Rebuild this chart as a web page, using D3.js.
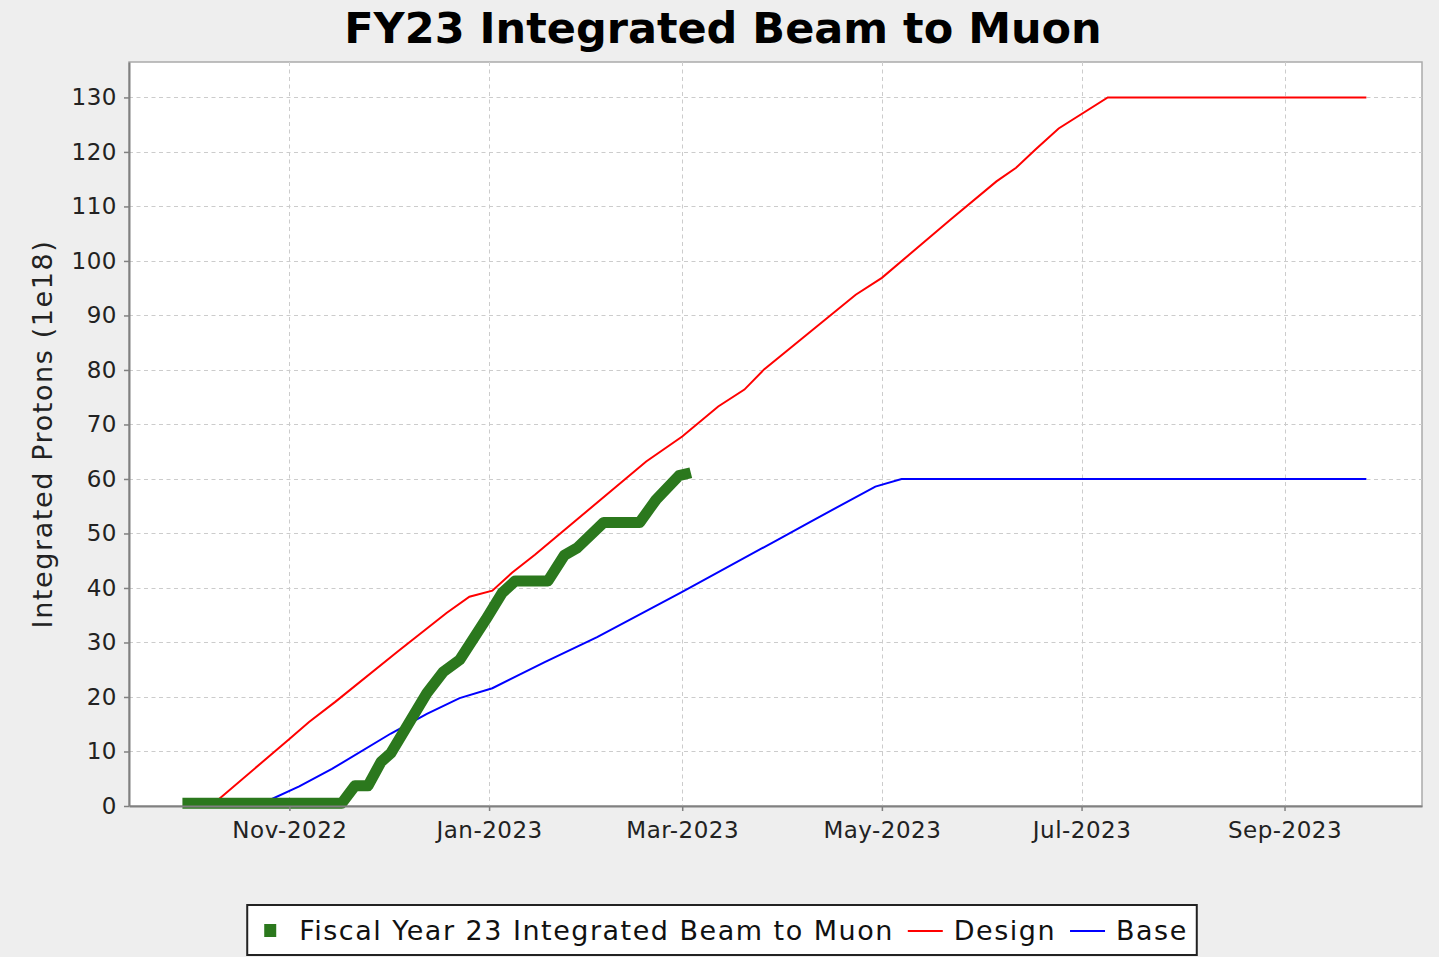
<!DOCTYPE html>
<html>
<head>
<meta charset="utf-8">
<script src="https://cdn.jsdelivr.net/npm/d3@7"></script>
<style>
  html, body { margin: 0; padding: 0; background: #eeeeee; }
  svg { display: block; font-family: "DejaVu Sans", sans-serif; }
</style>
</head>
<body>
<svg id="chart" width="1439" height="957"></svg>
<script>
// ---------- data ----------
const title = "FY23 Integrated Beam to Muon";
const yTitle = "Integrated Protons (1e18)";
const seriesNames = ["Fiscal Year 23 Integrated Beam to Muon", "Design", "Base"];
const seriesColors = ["#2b781d", "#ff0000", "#0000ff"];

const beamDates = ["2022-10-01","2022-11-17","2022-11-21","2022-11-25","2022-11-29","2022-12-02","2022-12-13","2022-12-18","2022-12-23","2022-12-31","2023-01-05","2023-01-09","2023-01-19","2023-01-24","2023-01-28","2023-02-05","2023-02-16","2023-02-21","2023-02-28","2023-03-02"];
const beamValues = [0.5,0.5,3.7,3.7,8.1,9.7,20.7,24.6,26.8,34.2,39.1,41.3,41.3,46.0,47.4,52.0,52.0,56.2,60.6,60.9];

const designDates = ["2022-10-08","2022-11-01","2022-11-07","2022-11-15","2022-12-04","2022-12-19","2022-12-26","2023-01-02","2023-01-08","2023-01-15","2023-02-18","2023-03-01","2023-03-12","2023-03-20","2023-03-26","2023-04-23","2023-05-01","2023-05-22","2023-06-05","2023-06-11","2023-06-17","2023-06-24","2023-07-09","2023-09-26"];
const designValues = [0,12.3,15.4,19.1,28.3,35.4,38.4,39.5,42.8,46.1,63.2,67.8,73.3,76.4,80.1,93.8,96.9,107.6,114.6,117.1,120.5,124.3,130,130];

const baseDates = ["2022-10-22","2022-11-04","2022-11-14","2022-12-02","2022-12-13","2022-12-23","2023-01-02","2023-01-10","2023-01-18","2023-02-03","2023-03-01","2023-03-30","2023-04-09","2023-04-29","2023-05-07","2023-09-26"];
const baseValues = [0,3.6,6.8,13.3,16.9,19.8,21.6,24.0,26.4,31.0,39.3,48.8,52.1,58.6,60,60];

const xTickDates = ["2022-11-01","2023-01-01","2023-03-01","2023-05-01","2023-07-01","2023-09-01"];
const yTickValues = [0,10,20,30,40,50,60,70,80,90,100,110,120,130];
const xDomain = ["2022-09-13","2023-10-13"];
const yDomain = [0, 136.5];

// ---------- setup ----------
const parse = d3.timeParse("%Y-%m-%d");
const svg = d3.select("#chart");
const plot = {left: 129, top: 62, right: 1422, bottom: 806};

const x = d3.scaleTime().domain(xDomain.map(parse)).range([plot.left, plot.right]);
const y = d3.scaleLinear().domain(yDomain).range([plot.bottom, plot.top]);

const zip = (ds, vs) => ds.map((d, i) => ({date: parse(d), value: vs[i]}));
const series = [zip(beamDates, beamValues), zip(designDates, designValues), zip(baseDates, baseValues)];

// background
svg.append("rect").attr("width", 1439).attr("height", 957).attr("fill", "#eeeeee");
svg.append("rect")
  .attr("x", plot.left).attr("y", plot.top)
  .attr("width", plot.right - plot.left).attr("height", plot.bottom - plot.top)
  .attr("fill", "#ffffff").attr("stroke", "#aaaaaa").attr("stroke-width", 1.5);

// grid
const grid = svg.append("g").attr("stroke", "#cccccc").attr("stroke-width", 1).attr("stroke-dasharray", "4,3.5");
grid.selectAll("line.h").data(yTickValues).join("line")
  .attr("x1", plot.left).attr("x2", plot.right)
  .attr("y1", d => Math.round(y(d)) + 0.5).attr("y2", d => Math.round(y(d)) + 0.5);
grid.selectAll("line.v").data(xTickDates.map(parse)).join("line")
  .attr("y1", plot.top).attr("y2", plot.bottom)
  .attr("x1", d => Math.round(x(d)) + 0.5).attr("x2", d => Math.round(x(d)) + 0.5);

// lines
const line = d3.line().x(d => x(d.date)).y(d => y(d.value));
const g = svg.append("g");
g.append("path").datum(series[1]).attr("d", line)
  .attr("fill", "none").attr("stroke", seriesColors[1]).attr("stroke-width", 2);
g.append("path").datum(series[2]).attr("d", line)
  .attr("fill", "none").attr("stroke", seriesColors[2]).attr("stroke-width", 2);
g.append("path").datum(series[0]).attr("d", line)
  .attr("fill", "none").attr("stroke", seriesColors[0]).attr("stroke-width", 11)
  .attr("stroke-linejoin", "round").attr("stroke-linecap", "square");

// axes
const yAxis = d3.axisLeft(y).tickValues(yTickValues).tickSize(5).tickSizeOuter(0).tickPadding(7);
const xAxis = d3.axisBottom(x).tickValues(xTickDates.map(parse)).tickSize(5).tickSizeOuter(0).tickPadding(11)
  .tickFormat(d3.timeFormat("%b-%Y"));

const ya = svg.append("g").attr("transform", `translate(${plot.left},0)`).call(yAxis);
const xa = svg.append("g").attr("transform", `translate(0,${plot.bottom})`).call(xAxis);
[ya, xa].forEach(a => {
  a.select(".domain").attr("stroke", "#808080").attr("stroke-width", 2);
  a.selectAll(".tick line").attr("stroke", "#808080").attr("stroke-width", 1.5);
  a.selectAll(".tick text").attr("fill", "#222222")
    .style("font-family", "'DejaVu Sans', sans-serif").style("font-size", "23px")
    .style("letter-spacing", "0.5px");
});

// title
svg.append("text").attr("x", 723).attr("y", 43).attr("text-anchor", "middle")
  .style("font-weight", "bold").style("font-size", "43px").attr("fill", "#000")
  .text(title);

// y axis title
svg.append("text")
  .attr("transform", "translate(52,434) rotate(-90)")
  .attr("text-anchor", "middle")
  .style("font-size", "27px").style("letter-spacing", "1.6px").attr("fill", "#222")
  .text(yTitle);

// legend
const leg = svg.append("g");
const legBox = leg.append("rect").attr("fill", "#ffffff").attr("stroke", "#222222").attr("stroke-width", 2);
const legY = 940;
let cx = 262;
const items = leg.append("g");
items.append("rect").attr("x", cx).attr("y", 924).attr("width", 12).attr("height", 13).attr("fill", seriesColors[0]);
cx += 35;
seriesNames.forEach((name, i) => {
  if (i > 0) {
    cx += 14;
    items.append("line").attr("x1", cx).attr("x2", cx + 35).attr("y1", 931).attr("y2", 931)
      .attr("stroke", seriesColors[i]).attr("stroke-width", 2);
    cx += 46;
  }
  const t = items.append("text").attr("x", cx).attr("y", legY)
    .style("font-size", "27px").style("letter-spacing", "1.5px").attr("fill", "#111")
    .text(name);
  cx += t.node().getComputedTextLength();
});
const legLeft = 245, legRight = cx + 9;
legBox.attr("x", legLeft).attr("y", 905).attr("width", legRight - legLeft).attr("height", 50);
const shift = 722 - (legLeft + legRight) / 2;
leg.attr("transform", `translate(${shift},0)`);
</script>
</body>
</html>
